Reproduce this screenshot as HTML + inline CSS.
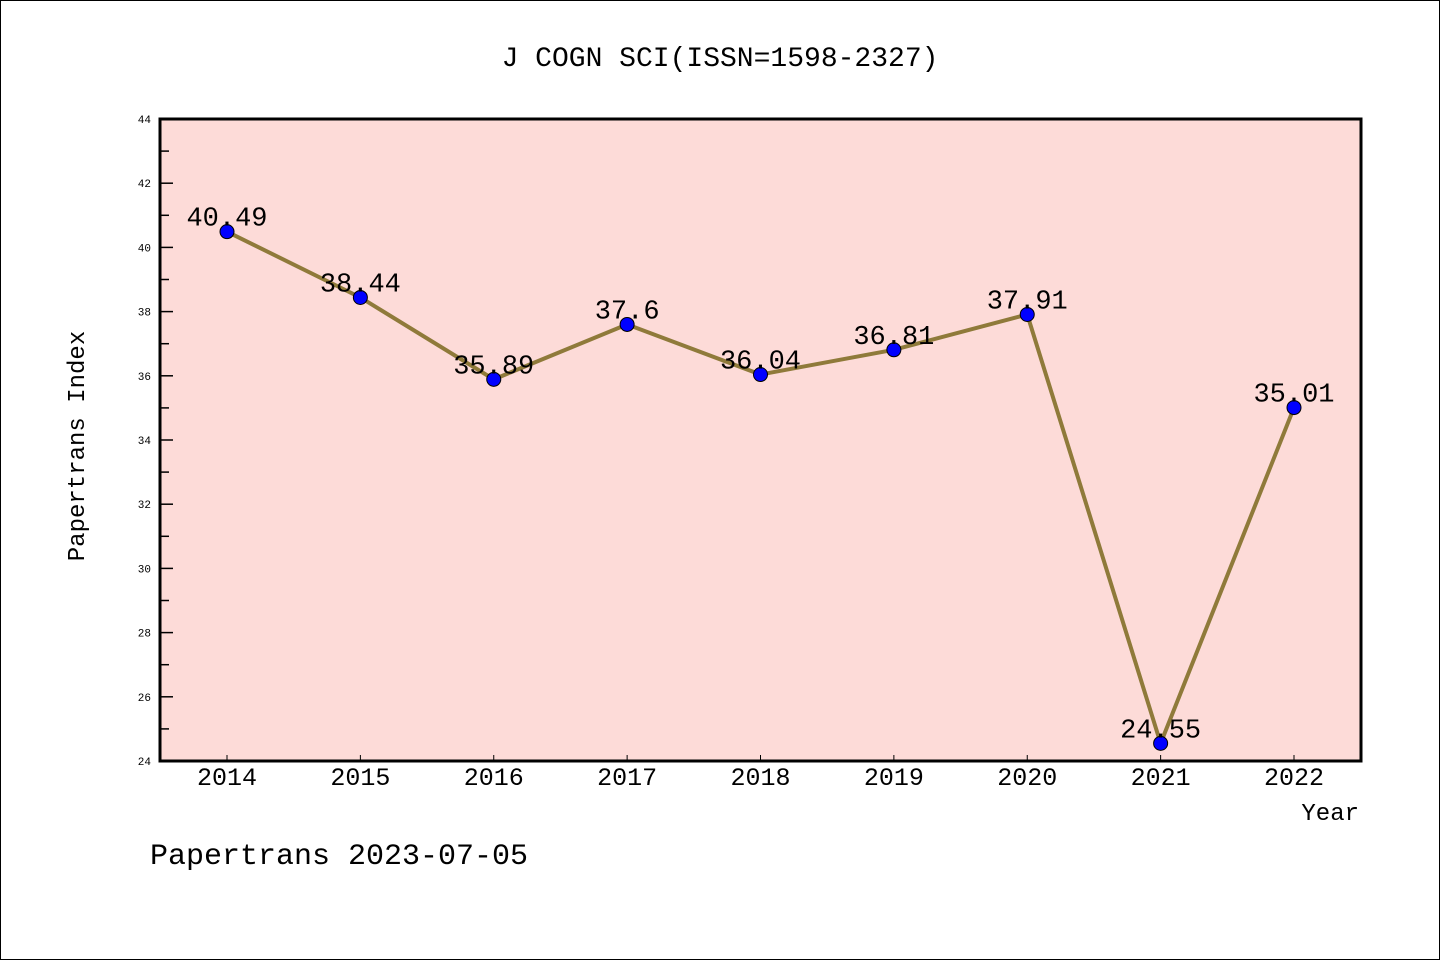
<!DOCTYPE html>
<html><head><meta charset="utf-8"><style>
body{margin:0;background:#fff}
svg{display:block}
text{font-family:"WenQuanYi Zen Hei Mono","Liberation Mono",monospace}
</style></head><body>
<svg id="c" width="1440" height="960">
<rect x="0.5" y="0.5" width="1439" height="959" fill="#fff" stroke="#000"/>
<text x="720" y="66" font-size="28" text-anchor="middle">J COGN SCI(ISSN=1598-2327)</text>
<rect x="160" y="119" width="1201" height="642" fill="#fddbd8" stroke="#000" stroke-width="3"/>
<g id="axes"></g>
<g id="marks"></g>
<text x="84" y="446" font-size="24" text-anchor="middle" transform="rotate(-90 84 446)">Papertrans Index</text>
<text x="1359" y="820" font-size="24" text-anchor="end">Year</text>
<text x="150" y="864" font-size="30">Papertrans 2023-07-05</text>
</svg>
<script>
const years=[2014,2015,2016,2017,2018,2019,2020,2021,2022];
const values=[40.49,38.44,35.89,37.6,36.04,36.81,37.91,24.55,35.01];
const labels=["40.49","38.44","35.89","37.6","36.04","36.81","37.91","24.55","35.01"];
const yTicks=[24,26,28,30,32,34,36,38,40,42,44];
const NS="http://www.w3.org/2000/svg";
const x=i=>227+i*(1294-227)/(years.length-1);
const y=v=>761-(v-24)*(642/20);
function mk(t,a,p){const e=document.createElementNS(NS,t);for(const k in a)e.setAttribute(k,a[k]);p.appendChild(e);return e;}
const ax=document.getElementById('axes'),mg=document.getElementById('marks');
yTicks.forEach((t,i)=>{
  const l=mk('line',{x1:160,x2:173,y1:y(t),y2:y(t),stroke:'#000','stroke-width':1.5},ax);
  
  
  const tx=mk('text',{x:151,y:y(t)+4,'font-size':11,'text-anchor':'end'},ax);
  tx.textContent=t;
  
  
  if(i<yTicks.length-1){
    const m=mk('line',{x1:160,x2:169,y1:y(t+1),y2:y(t+1),stroke:'#000','stroke-width':1.5},ax);
    
    
  }
});
years.forEach((yr,i)=>{
  const l=mk('line',{x1:x(i),x2:x(i),y1:761,y2:755,stroke:'#000','stroke-width':1},ax);
  
  
  const tx=mk('text',{x:x(i),y:785,'font-size':25,'text-anchor':'middle'},ax);
  tx.textContent=yr;
  
  
});
const pl=mk('polyline',{points:values.map((v,i)=>x(i)+','+y(v)).join(' '),fill:'none',stroke:'#8f7a3a','stroke-width':4},mg);


values.forEach((v,i)=>{
  const c=mk('circle',{cx:x(i),cy:y(v),r:7,fill:'#0000ff',stroke:'#000','stroke-width':1},mg);
  
  
  const t=mk('text',{x:x(i),y:y(v)-6,'font-size':27,'text-anchor':'middle'},mg);
  t.textContent=labels[i];
  
  
});
</script>
</body></html>
